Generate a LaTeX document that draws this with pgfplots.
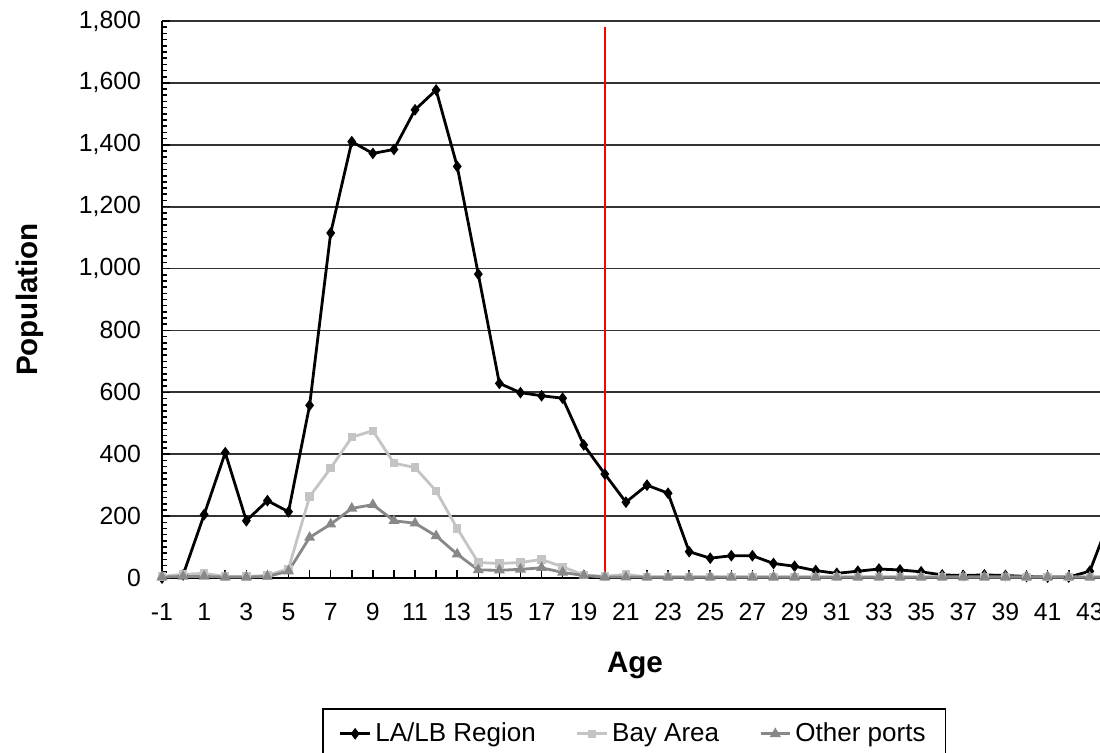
\documentclass[border=0pt]{standalone}
\usepackage{pgfplots}
\pgfplotsset{compat=1.18}
\usepackage{fontspec}
\setmainfont{Liberation Sans}
\definecolor{bayc}{HTML}{C4C4C4}
\definecolor{othc}{HTML}{888888}
\definecolor{gridc}{HTML}{333333}
\begin{document}
\begin{tikzpicture}
\begin{axis}[
  at={(81pt,87pt)}, anchor=south west,
  scale only axis,
  width=485pt, height=278.5pt,
  xmin=-1, xmax=45, ymin=0, ymax=1800,
  axis x line=bottom, axis y line=left,
  axis line style={-, black, line width=1pt},
  xtick={-1,0,...,44},
  xticklabels={-1,,1,,3,,5,,7,,9,,11,,13,,15,,17,,19,,21,,23,,25,,27,,29,,31,,33,,35,,37,,39,,41,,43,},
  ytick={0,200,...,1800},
  minor y tick num=9,
  tick align=inside,
  major tick length=4pt, minor tick length=2.5pt,
  tick style={black, line width=0.8pt},
  ymajorgrids,
  major grid style={gridc, line width=0.9pt},
  /pgf/number format/assume math mode=true,
  /pgf/number format/.cd, 1000 sep={,}, /pgfplots/.cd,
  ticklabel style={font=\fontsize{12.4}{14}\selectfont},
  xticklabel style={yshift=-9pt},
  yticklabel style={xshift=-7pt},
  xlabel={\textbf{Age}},
  ylabel={\textbf{Population}},
  label style={font=\fontsize{14.8}{17}\selectfont},
  xlabel style={at={(axis description cs:0.4876,0)}, anchor=center, yshift=-87pt+43.5pt},
  ylabel style={at={(axis description cs:-0.1361,0.5)}, anchor=center},
  legend style={at={(axis description cs:0.165,-0.2334)}, anchor=north west,
    draw=black, line width=0.9pt, legend columns=3,
    font=\fontsize{13}{15}\selectfont, inner ysep=5pt, inner xsep=8pt},
  legend cell align=left,
  legend image code/.code={\draw[mark repeat=2,mark phase=2,#1] plot coordinates {(0cm,0cm) (0.26cm,0cm) (0.52cm,0cm)};},
  /tikz/every even column/.append style={column sep=18pt},
  clip=true,
]
\addplot[black, line width=1.4pt, mark=diamond*, mark size=1.8pt, mark options={solid}] coordinates {
(-1,0) (0,10) (1,205) (2,405) (3,185) (4,250) (5,214) (6,558) (7,1115) (8,1410)
(9,1372) (10,1385) (11,1513) (12,1577) (13,1330) (14,982) (15,629) (16,599) (17,589) (18,581)
(19,430) (20,336) (21,245) (22,300) (23,274) (24,85) (25,64) (26,72) (27,72) (28,47)
(29,38) (30,24) (31,15) (32,22) (33,29) (34,26) (35,20) (36,10) (37,8) (38,10)
(39,8) (40,5) (41,3) (42,3) (43,22) (44,200)};
\addlegendentry{LA/LB Region}
\addplot[bayc, line width=1.4pt, mark=square*, mark size=1.4pt] coordinates {
(-1,5) (0,12) (1,15) (2,5) (3,5) (4,8) (5,30) (6,263) (7,355) (8,455)
(9,476) (10,371) (11,357) (12,281) (13,160) (14,50) (15,47) (16,50) (17,60) (18,36)
(19,10) (20,5) (21,12) (22,3) (23,3) (24,3) (25,3) (26,3) (27,3) (28,3)
(29,3) (30,3) (31,3) (32,3) (33,3) (34,3) (35,3) (36,3) (37,3) (38,3)
(39,3) (40,3) (41,3) (42,3) (43,3) (44,3)};
\addlegendentry{Bay Area}
\addplot[othc, line width=1.4pt, mark=triangle*, mark size=1.8pt] coordinates {
(-1,3) (0,5) (1,5) (2,3) (3,3) (4,5) (5,22) (6,131) (7,174) (8,225)
(9,237) (10,185) (11,177) (12,136) (13,77) (14,26) (15,25) (16,28) (17,33) (18,18)
(19,8) (20,3) (21,3) (22,3) (23,3) (24,3) (25,3) (26,3) (27,3) (28,3)
(29,3) (30,3) (31,3) (32,3) (33,3) (34,3) (35,3) (36,3) (37,3) (38,3)
(39,3) (40,3) (41,3) (42,3) (43,3) (44,3)};
\addlegendentry{Other ports}
\addplot[red, line width=1pt, forget plot] coordinates {(20,0) (20,1780)};
\end{axis}
\pgfresetboundingbox
\useasboundingbox (0,0) rectangle (550pt,376pt);
\end{tikzpicture}
\end{document}
